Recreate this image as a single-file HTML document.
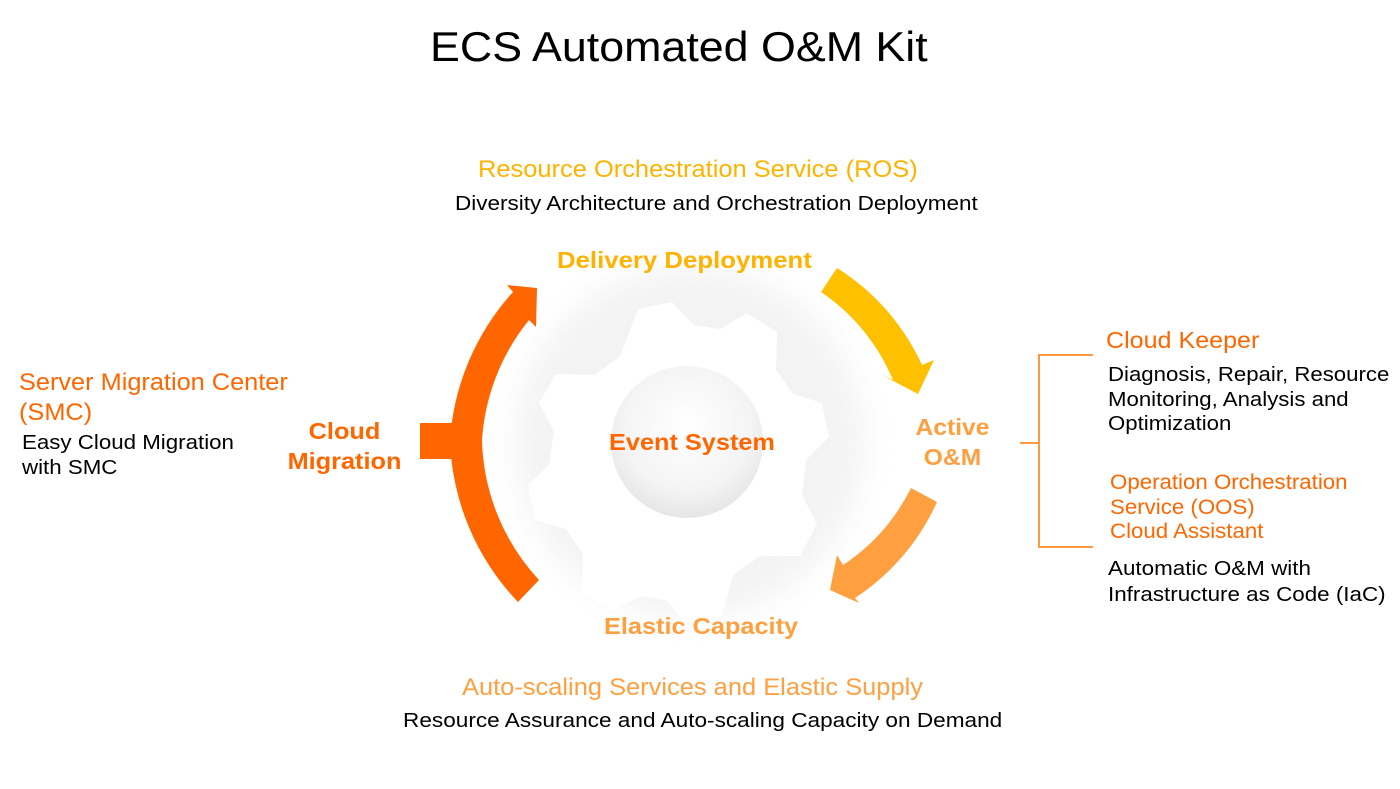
<!DOCTYPE html>
<html><head><meta charset="utf-8"><style>
body{margin:0;width:1400px;height:789px;background:#fff;position:relative;overflow:hidden;font-family:"Liberation Sans",Arial,sans-serif}
.t{position:absolute;white-space:nowrap;line-height:1;transform-origin:0 0}
</style></head><body>
<svg width="1400" height="789" style="position:absolute;left:0;top:0">
<defs>
<filter id="bl" x="-30%" y="-30%" width="160%" height="160%"><feGaussianBlur stdDeviation="14"/></filter>
<radialGradient id="cg" cx="50%" cy="40%" r="60%"><stop offset="0" stop-color="#fff"/><stop offset="0.7" stop-color="#f4f4f4"/><stop offset="1" stop-color="#e6e6e6"/></radialGradient>
</defs>
<circle cx="690" cy="442" r="175" fill="#ececec" filter="url(#bl)" opacity="0.6"/>
<polygon fill="#fff" points="638,309 672,302 694,325 720,329 747,313 777,332 776,370 793,394 822,403 829,437 806,460 802,495 817,524 800,556 760,556 733,575 722,616 687,624 666,600 641,596 612,611 582,593 583,554 566,529 535,520 528,485 549,465 554,431 539,403 556,374 595,375 620,356"/>
<circle cx="687" cy="442" r="76" fill="url(#cg)"/>
<path fill="#FF6600" d="M450,440 A245,245 0 0 0 518,602 L539,580 A213,213 0 0 1 482,440 A213,213 0 0 1 529,320 L536,327 L537,288 L507,285 L513,292 A245,245 0 0 0 450,440 Z"/>
<rect x="420" y="423" width="32" height="36" fill="#FF6600"/>
<path fill="#FFC000" d="M837,268 A225,225 0 0 1 922,365 L934,360 L918,394 L882,375 L893,380 A198,198 0 0 0 821,292 Z"/>
<path fill="#FFA040" d="M937,502 A225,225 0 0 1 855,598 L859,603 L830,590 L837,555 L843,565 A198,198 0 0 0 911,488 Z"/>
<g stroke="#FF9A3C" stroke-width="2" fill="none"><path d="M1093,355 H1039 V547 H1093"/><path d="M1020,443 H1039"/></g>
</svg>
<div class="t" style="left:430px;top:26px;font-size:42px;color:#000;transform:scaleX(1.066)">ECS Automated O&amp;M Kit</div>
<div class="t" style="left:478px;top:158px;font-size:24px;color:#FFB300;transform:scaleX(1.06)">Resource Orchestration Service (ROS)</div>
<div class="t" style="left:455px;top:194px;font-size:20px;color:#000;transform:scaleX(1.125)">Diversity Architecture and Orchestration Deployment</div>
<div class="t" style="left:557px;top:249px;font-size:23px;font-weight:bold;color:#FFB300;transform:scaleX(1.12)">Delivery Deployment</div>
<div class="t" style="left:19px;top:368px;font-size:24px;color:#FF6600;line-height:30px;transform:scaleX(1.055)">Server Migration Center<br>(SMC)</div>
<div class="t" style="left:22px;top:431px;font-size:20px;color:#000;line-height:25px;transform:scaleX(1.115)">Easy Cloud Migration<br>with SMC</div>
<div class="t" style="left:288px;top:416px;font-size:23px;font-weight:bold;color:#FF6600;text-align:center;line-height:30px;width:113px;transform:scaleX(1.1);transform-origin:center">Cloud<br>Migration</div>
<div class="t" style="left:609px;top:431px;font-size:23px;font-weight:bold;color:#FF6600;transform:scaleX(1.1)">Event System</div>
<div class="t" style="left:905px;top:412px;font-size:23px;font-weight:bold;color:#FFA040;text-align:center;line-height:30px;width:95px;transform:scaleX(1.07);transform-origin:center">Active<br>O&amp;M</div>
<div class="t" style="left:1106px;top:329px;font-size:23px;color:#FF6600;transform:scaleX(1.09)">Cloud Keeper</div>
<div class="t" style="left:1108px;top:363px;font-size:20px;color:#000;line-height:24.5px;transform:scaleX(1.11)">Diagnosis, Repair, Resource<br>Monitoring, Analysis and<br>Optimization</div>
<div class="t" style="left:1110px;top:471px;font-size:21px;color:#FF6600;line-height:24.5px;transform:scaleX(1.06)">Operation Orchestration<br>Service (OOS)<br>Cloud Assistant</div>
<div class="t" style="left:1108px;top:557px;font-size:20px;color:#000;line-height:25.5px;transform:scaleX(1.12)">Automatic O&amp;M with<br>Infrastructure as Code (IaC)</div>
<div class="t" style="left:604px;top:615px;font-size:23px;font-weight:bold;color:#FFA040;transform:scaleX(1.1)">Elastic Capacity</div>
<div class="t" style="left:462px;top:676px;font-size:24px;color:#FFA040;transform:scaleX(1.06)">Auto-scaling Services and Elastic Supply</div>
<div class="t" style="left:403px;top:711px;font-size:20px;color:#000;transform:scaleX(1.13)">Resource Assurance and Auto-scaling Capacity on Demand</div>
</body></html>
